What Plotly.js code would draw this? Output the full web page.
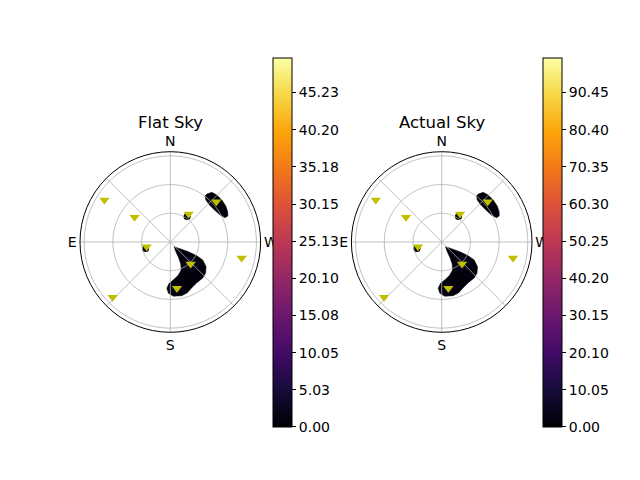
<!DOCTYPE html>
<html><head><meta charset="utf-8">
<script src="https://cdn.plot.ly/plotly-3.0.1.min.js"></script>
<style>html,body{margin:0;padding:0;background:#fff}</style>
</head><body><div id="chart" style="width:640px;height:480px"></div>
<script>
// Star positions (zenith distance r, azimuth theta in degrees, N=0, E=90)
const starR = [81.7, 45.4, 34.9, 63.9, 25.2, 31.3, 76.4, 48.9, 83.5];
const starTheta = [57.5, 55.3, 326.8, 311.2, 101.2, 222.7, 257.4, 188.2, 133.8];

// Dark (low-value) sky regions
const blobSouthR = [6.3, 12.4, 21.5, 31.2, 38.8, 45.5, 49.3, 50.7, 50.8, 52.8, 55.9, 57.4, 56.8, 53.7, 48.5, 43.2, 39.2, 35.5, 31.4, 25.5, 18.1, 11.7, 6.3];
const blobSouthTheta = [219.0, 235.6, 241.8, 242.7, 241.0, 235.4, 228.4, 222.1, 213.1, 205.2, 198.6, 192.1, 183.3, 177.9, 175.7, 178.3, 185.8, 193.8, 201.1, 205.5, 207.9, 209.6, 219.0];
const blobNorthR = [63.0, 67.7, 69.1, 69.5, 69.2, 67.9, 66.0, 62.7, 59.2, 57.0, 56.3, 57.5, 60.3, 63.0];
const blobNorthTheta = [322.7, 320.1, 315.3, 309.2, 303.0, 297.8, 294.3, 293.9, 298.5, 306.0, 313.4, 319.8, 322.9, 322.7];
const spotR = [31.9, 26.7];
const spotTheta = [326.6, 104.7];
const coreR = [31.3, 48.9];
const coreTheta = [222.7, 188.2];
const coreSize = [16, 10];

// Colour bar ranges and ticks
const flatMax = 49.9;
const actualMax = 99.8;
const flatTicks = [0, 5.03, 10.05, 15.08, 20.10, 25.13, 30.15, 35.18, 40.20, 45.23];
const actualTicks = [0, 10.05, 20.10, 30.15, 40.20, 50.25, 60.30, 70.35, 80.40, 90.45];
const radialTicks = [30, 60, 90];
const angularGrid = [0, 45, 90, 135, 180, 225, 270, 315];
const rMax = 94.4;

const inferno = [
  [0.0, '#000004'], [0.1, '#160b39'], [0.2, '#420a68'], [0.3, '#6a176e'],
  [0.4, '#932667'], [0.5, '#bc3754'], [0.6, '#dd513a'], [0.7, '#f37819'],
  [0.8, '#fca50a'], [0.9, '#f6d746'], [1.0, '#fcffa4']
];
const FONT = 'DejaVu Sans, Liberation Sans, sans-serif';

function panelTraces(sub, cmax, ticks, cbx) {
  const tr = [];
  tr.push({type: 'scatterpolar', subplot: sub, r: blobSouthR, theta: blobSouthTheta,
    mode: 'lines', fill: 'toself', fillcolor: '#03020c', line: {color: '#03020c', width: 0.5},
    hoverinfo: 'skip', showlegend: false});
  tr.push({type: 'scatterpolar', subplot: sub, r: blobNorthR, theta: blobNorthTheta,
    mode: 'lines', fill: 'toself', fillcolor: '#03020c', line: {color: '#03020c', width: 0.5},
    hoverinfo: 'skip', showlegend: false});
  tr.push({type: 'scatterpolar', subplot: sub, r: coreR, theta: coreTheta, mode: 'markers',
    marker: {symbol: 'circle', size: coreSize, color: '#0a0820', line: {width: 0}},
    hoverinfo: 'skip', showlegend: false});
  tr.push({type: 'scatterpolar', subplot: sub, r: coreR, theta: coreTheta, mode: 'markers',
    marker: {symbol: 'circle', size: coreSize.map(function (s) { return s * 0.55; }), color: '#120d30', line: {width: 0}},
    hoverinfo: 'skip', showlegend: false});
  tr.push({type: 'scatterpolar', subplot: sub, r: spotR, theta: spotTheta, mode: 'markers',
    marker: {symbol: 'circle', size: 7, color: '#03020c', line: {width: 0}},
    hoverinfo: 'skip', showlegend: false});
  // grid drawn above the sky map, as in the reference
  radialTicks.forEach(function (rv) {
    const th = [], rr = [];
    for (let a = 0; a <= 360; a += 2) { th.push(a); rr.push(rv); }
    tr.push({type: 'scatterpolar', subplot: sub, r: rr, theta: th, mode: 'lines',
      line: {color: '#b0b0b0', width: 0.8}, hoverinfo: 'skip', showlegend: false});
  });
  angularGrid.forEach(function (a) {
    tr.push({type: 'scatterpolar', subplot: sub, r: [0, rMax], theta: [a, a], mode: 'lines',
      line: {color: '#b0b0b0', width: 0.8}, hoverinfo: 'skip', showlegend: false});
  });
  tr.push({type: 'scatterpolar', subplot: sub, r: starR, theta: starTheta, mode: 'markers',
    marker: {symbol: 'triangle-down', size: 9, color: '#bfbf00', line: {width: 0}},
    hoverinfo: 'skip', showlegend: false});
  // colour bar carrier
  tr.push({type: 'scatterpolar', subplot: sub, r: [0, 0], theta: [0, 0], mode: 'markers',
    marker: {size: 1, opacity: 0, color: [0, cmax], cmin: 0, cmax: cmax, colorscale: inferno,
      showscale: true,
      colorbar: {x: cbx, xanchor: 'left', xpad: 0, ypad: 0, y: 0.4948, yanchor: 'middle',
        len: 369, lenmode: 'pixels', thickness: 19, thicknessmode: 'pixels',
        outlinecolor: '#000', outlinewidth: 1,
        tickmode: 'array', tickvals: ticks, ticktext: ticks.map(function (v) { return v.toFixed(2); }),
        ticks: 'outside', ticklen: 4, tickcolor: '#000', tickwidth: 1,
        tickfont: {family: FONT, size: 14, color: '#000'}}},
    hoverinfo: 'skip', showlegend: false});
  return tr;
}

const data = panelTraces('polar', flatMax, flatTicks, 272.5 / 640)
  .concat(panelTraces('polar2', actualMax, actualTicks, 542.5 / 640));

function polarLayout(xd) {
  return {
    domain: {x: xd, y: [0.3077, 0.6840]},
    bgcolor: '#fff',
    radialaxis: {range: [0, rMax], showgrid: false, showticklabels: false, showline: false, ticks: ''},
    angularaxis: {rotation: 90, direction: 'counterclockwise', showgrid: false,
      showline: true, linecolor: '#000', linewidth: 1, ticks: '',
      tickmode: 'array', tickvals: [0, 90, 180, 270], ticktext: ['N', 'E', 'S', 'W'],
      tickfont: {family: FONT, size: 14, color: '#000'}}
  };
}

const layout = {
  width: 640, height: 480,
  margin: {l: 0, r: 0, t: 0, b: 0},
  paper_bgcolor: '#fff',
  showlegend: false,
  font: {family: FONT, color: '#000'},
  polar: polarLayout([80 / 640, 260.6 / 640]),
  polar2: polarLayout([351.2 / 640, 532.2 / 640]),
  annotations: [
    {text: 'Flat Sky', x: 170.3 / 640, y: 1 - 123 / 480, xref: 'paper', yref: 'paper',
      xanchor: 'center', yanchor: 'middle', showarrow: false, font: {family: FONT, size: 16.5, color: '#000'}},
    {text: 'Actual Sky', x: 441.7 / 640, y: 1 - 123 / 480, xref: 'paper', yref: 'paper',
      xanchor: 'center', yanchor: 'middle', showarrow: false, font: {family: FONT, size: 16.5, color: '#000'}}
  ]
};

Plotly.newPlot('chart', data, layout, {staticPlot: true, displayModeBar: false});
</script>
</body></html>
